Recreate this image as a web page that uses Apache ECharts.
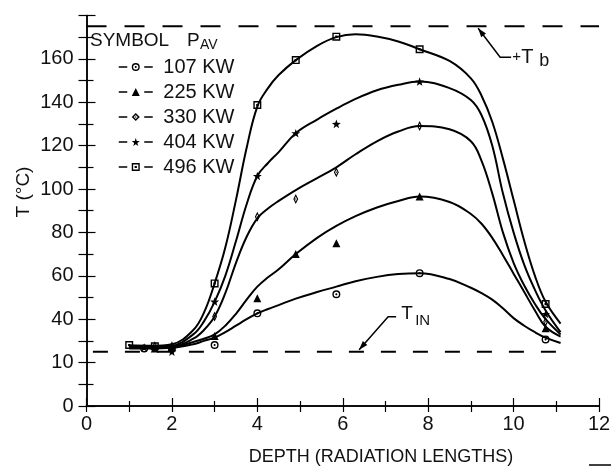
<!DOCTYPE html>
<html><head><meta charset="utf-8">
<script src="https://cdn.jsdelivr.net/npm/echarts@6/dist/echarts.min.js"></script>
<style>html,body{margin:0;padding:0;background:#fff}#c{width:614px;height:468px}</style>
</head><body><div id="c"></div>
<script>
// ---------- data ----------
const seriesNames = ['107 KW', '225 KW', '330 KW', '404 KW', '496 KW'];
const pointDepth = [1.0, 1.35, 1.6, 2.0, 3.0, 4.0, 4.9, 5.85, 7.8, 10.75];
const pts107 = [null, 26.5, null, 26.6, 28.1, 42.7, null, 51.5, 61.2, 30.7];
const pts225 = [null, null, 26.5, 27.2, 32.3, 49.6, 70.0, 75.0, 96.5, 35.8];
const pts330 = [null, null, 27.5, 27.5, 41.2, 87.2, 95.4, 107.7, 129.0, 38.8];
const pts404 = [null, 27.0, null, 25.0, 48.1, 106.0, 125.7, 130.0, 149.5, 42.4];
const pts496 = [28.1, null, 27.5, null, 56.5, 138.7, 159.4, 170.2, 164.4, 47.0];

const curveDepth = [1.0, 1.5, 2.0, 2.5, 2.75, 3.0, 3.25, 3.5, 3.75, 4.0, 4.25, 4.5, 4.9, 5.4, 5.85, 6.3, 6.8, 7.3, 7.8, 8.5, 9.0, 9.25, 9.5, 9.75, 10.0, 10.25, 10.5, 10.75, 11.1];
const curve107 = [26.5, 26.5, 26.8, 28.5, 30.0, 31.5, 34.0, 37.0, 40.0, 42.7, 44.7, 46.5, 49.5, 52.5, 55.0, 57.5, 59.5, 60.8, 61.2, 58.5, 54.5, 52.0, 49.0, 45.0, 40.5, 37.0, 34.0, 31.5, 29.0];
const curve225 = [27.0, 26.8, 27.0, 29.5, 31.0, 33.0, 37.0, 42.5, 49.0, 55.0, 59.3, 63.0, 70.0, 77.5, 83.0, 87.5, 91.5, 94.5, 96.5, 94.0, 88.5, 84.0, 77.5, 69.5, 61.0, 52.5, 44.0, 36.5, 32.0];
const curve330 = [27.5, 27.0, 27.3, 31.0, 35.0, 41.2, 52.0, 66.0, 78.0, 86.5, 91.0, 94.5, 99.5, 105.0, 110.0, 116.0, 122.0, 126.5, 129.0, 127.5, 122.0, 113.0, 98.0, 80.0, 66.0, 55.5, 47.0, 40.0, 33.0];
const curve404 = [27.5, 27.3, 27.8, 33.0, 39.0, 48.0, 60.0, 76.0, 93.0, 106.0, 112.0, 117.0, 125.7, 132.0, 137.0, 141.5, 145.5, 148.0, 149.5, 146.5, 141.0, 134.0, 120.0, 98.0, 80.0, 65.0, 53.5, 44.0, 34.0];
const curve496 = [28.0, 27.8, 28.5, 35.0, 43.0, 56.5, 73.0, 95.0, 119.0, 138.0, 146.5, 152.5, 159.4, 166.0, 170.0, 171.3, 170.3, 168.0, 164.4, 159.0, 151.0, 143.0, 131.0, 114.0, 95.0, 76.0, 60.0, 48.0, 38.0];

const tbValue = 175;          // T_b reference level
const tinValue = 25;          // T_IN reference level
const tinRange = [0.15, 11.25];
const xTickLabels = ['0', '2', '4', '6', '8', '10', '12'];
const yTickLabels = ['0', '10', '40', '60', '80', '100', '120', '140', '160', ''];

// ---------- styling ----------
const FONT = "'Liberation Sans', Arial, sans-serif";
const INK = '#111';
const symbols = [
  'path://M0,-10A10,10 0 1,1 0,10A10,10 0 1,1 0,-10ZM0,-6.5A6.5,6.5 0 1,0 0,6.5A6.5,6.5 0 1,0 0,-6.5ZM0,-2.6A2.6,2.6 0 1,1 0,2.6A2.6,2.6 0 1,1 0,-2.6Z',
  'triangle',
  'path://M0,-10L7,0L0,10L-7,0ZM0,-5L-3.5,0L0,5L3.5,0ZM0,-2L1.5,0L0,2L-1.5,0Z',
  'path://M0,-10L2.35,-3.24L9.51,-3.09L3.8,1.24L5.88,8.09L0,4L-5.88,8.09L-3.8,1.24L-9.51,-3.09L-2.35,-3.24Z',
  'path://M-10,-10L10,-10L10,10L-10,10ZM-6.5,-6.5L-6.5,6.5L6.5,6.5L6.5,-6.5ZM-2.8,-2.8L2.8,-2.8L2.8,2.8L-2.8,2.8Z'
];
const symSizes = [8, 8, [7, 10], 9, 8];
const allPts = [pts107, pts225, pts330, pts404, pts496];
const allCurves = [curve107, curve225, curve330, curve404, curve496];

const zip = (xs, ys) => xs.map((x, i) => [x, ys[i]]).filter(p => p[1] !== null);

const series = [];
allCurves.forEach((c, i) => {
  series.push({
    type: 'line', name: seriesNames[i] + ' curve', data: zip(curveDepth, c),
    smooth: 0.4, symbol: 'none', silent: true, z: 2,
    lineStyle: { color: '#000', width: 2 }
  });
});
allPts.forEach((p, i) => {
  series.push({
    type: 'line', name: seriesNames[i], data: zip(pointDepth, p),
    symbol: symbols[i], symbolSize: symSizes[i], symbolKeepAspect: true,
    showSymbol: true, showAllSymbol: true, silent: true, z: 5,
    lineStyle: { opacity: 0 }, itemStyle: { color: '#000' }
  });
});
series.push({
  type: 'line', name: 'Tb', data: [[0, tbValue], [12, tbValue]], symbol: 'none', silent: true, z: 1,
  lineStyle: { color: '#000', width: 1.8, type: [20, 18] }
});
series.push({
  type: 'line', name: 'Tin', data: [[tinRange[0], tinValue], [tinRange[1], tinValue]], symbol: 'none', silent: true, z: 1,
  lineStyle: { color: '#000', width: 1.8, type: [15, 17] }
});

const axisLineStyle = { lineStyle: { color: '#000', width: 1.5 } };
const chart = echarts.init(document.getElementById('c'), null, { renderer: 'canvas' });
chart.setOption({
  animation: false,
  backgroundColor: '#fff',
  grid: { left: 86.5, right: 15, top: 15.4, bottom: 62 },
  xAxis: [
    { type: 'value', min: 0, max: 12, interval: 2, position: 'bottom',
      axisLine: axisLineStyle, splitLine: { show: false },
      axisTick: { inside: true, length: 8, lineStyle: { color: '#000', width: 1.2 } },
      minorTick: { show: true, splitNumber: 2, length: 5, lineStyle: { color: '#000', width: 1.2 } },
      axisLabel: { margin: 8, fontSize: 20, fontFamily: FONT, color: INK,
        formatter: v => xTickLabels[Math.round(v / 2)] } },
    { type: 'value', min: 0, max: 12, interval: 1, position: 'top',
      axisLine: axisLineStyle, splitLine: { show: false },
      axisTick: { inside: true, length: 6, lineStyle: { color: '#000', width: 1.2 } },
      axisLabel: { show: false } }
  ],
  yAxis: [
    { type: 'value', min: 0, max: 180, interval: 20, position: 'left',
      axisLine: axisLineStyle, splitLine: { show: false },
      axisTick: { inside: true, length: 9, lineStyle: { color: '#000', width: 1.2 } },
      minorTick: { show: true, splitNumber: 2, length: 7, lineStyle: { color: '#000', width: 1.2 } },
      axisLabel: { margin: 13, fontSize: 20, fontFamily: FONT, color: INK,
        formatter: v => yTickLabels[Math.round(v / 20)] } },
    { type: 'value', min: 0, max: 180, interval: 10, position: 'right',
      axisLine: axisLineStyle, splitLine: { show: false },
      axisTick: { inside: true, length: 8, lineStyle: { color: '#000', width: 1.2 } },
      axisLabel: { show: false } }
  ],
  legend: {
    data: seriesNames, orient: 'vertical', left: 118, top: 57, padding: 0,
    itemWidth: 34, itemHeight: 10, itemGap: 5,
    formatter: n => ' ' + n,
    textStyle: { fontSize: 20, fontFamily: FONT, color: INK, lineHeight: 20 },
    lineStyle: { color: '#000', width: 1.5, opacity: 1, type: [8.5, 17] },
    selectedMode: false
  },
  series: series
});

// ---------- annotations ----------
function arrowHead(tip, from, len, half) {
  const dx = tip[0] - from[0], dy = tip[1] - from[1];
  const d = Math.hypot(dx, dy), ux = dx / d, uy = dy / d;
  const bx = tip[0] - ux * len, by = tip[1] - uy * len;
  return [tip, [bx - uy * half, by + ux * half], [bx + uy * half, by - ux * half]];
}
const tbTip0 = chart.convertToPixel({ xAxisIndex: 0, yAxisIndex: 0 }, [9.17, tbValue]);
const tbTip = [tbTip0[0], tbTip0[1] + 2];
const tbKnee = [tbTip[0] + 22, tbTip[1] + 29];
const tbEnd = [tbKnee[0] + 11, tbKnee[1]];
const tinTip0 = chart.convertToPixel({ xAxisIndex: 0, yAxisIndex: 0 }, [6.36, tinValue]);
const tinTip = [tinTip0[0] + 1, tinTip0[1] - 2];
const tinKnee = [tinTip[0] + 29, tinTip[1] - 33];
const tinEnd = [tinKnee[0] + 8, tinKnee[1]];

const txt = (text, x, y, size, extra) => Object.assign({
  type: 'text', silent: true, z: 10,
  style: { text: text, x: x, y: y, font: size + 'px ' + FONT, fill: INK, align: 'left', verticalAlign: 'middle' }
}, extra || {});

chart.setOption({
  graphic: [
    txt('SYMBOL', 90, 40.5, 19),
    txt('P', 187, 40.5, 19),
    txt('AV', 200, 45.5, 14),
    { type: 'polyline', silent: true, z: 10, shape: { points: [tbEnd, tbKnee, tbTip] }, style: { stroke: '#000', lineWidth: 1.5, fill: null } },
    { type: 'polygon', silent: true, z: 10, shape: { points: arrowHead(tbTip, tbKnee, 9, 3) }, style: { fill: '#000' } },
    txt('+', tbEnd[0] + 1, tbEnd[1], 15),
    txt('T', tbEnd[0] + 10, tbEnd[1] + 0.5, 20),
    txt('b', tbEnd[0] + 28, tbEnd[1] + 4, 18),
    { type: 'polyline', silent: true, z: 10, shape: { points: [tinEnd, tinKnee, tinTip] }, style: { stroke: '#000', lineWidth: 1.5, fill: null } },
    { type: 'polygon', silent: true, z: 10, shape: { points: arrowHead(tinTip, tinKnee, 9, 3) }, style: { fill: '#000' } },
    txt('T', tinEnd[0] + 5, tinEnd[1] - 3, 19),
    txt('IN', tinEnd[0] + 19, tinEnd[1] + 4.5, 15),
    { type: 'text', silent: true, z: 10, x: 24, y: 192, rotation: Math.PI / 2,
      style: { text: 'T (°C)', x: 0, y: 0, font: '19px ' + FONT, fill: INK, align: 'center', verticalAlign: 'middle' } },
    { type: 'text', silent: true, z: 10,
      style: { text: 'DEPTH (RADIATION LENGTHS)', x: 381, y: 457, font: '18px ' + FONT, fill: INK, align: 'center', verticalAlign: 'middle' } },
    { type: 'line', silent: true, shape: { x1: 589, y1: 465, x2: 611, y2: 465 }, style: { stroke: '#000', lineWidth: 1.5 } }
  ]
});
</script>
</body></html>
